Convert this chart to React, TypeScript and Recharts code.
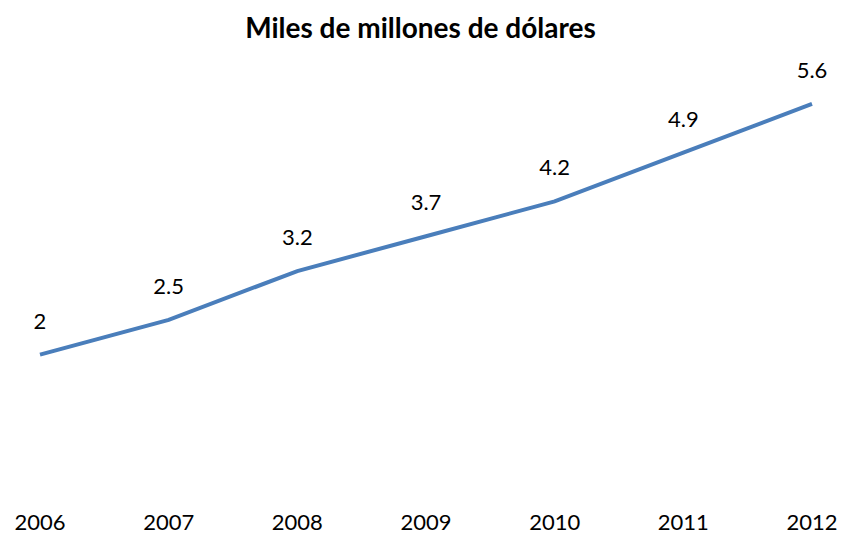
import { LineChart, Line, XAxis, YAxis, LabelList } from 'recharts';

const years = ['2006', '2007', '2008', '2009', '2010', '2011', '2012'];
const values = [2, 2.5, 3.2, 3.7, 4.2, 4.9, 5.6];

const data = years.map((year, i) => ({ year, value: values[i] }));

const FONT = 'Lato, "Open Sans", sans-serif';

export default function App() {
  return (
    <div style={{ position: 'absolute', left: 0, top: 0, width: 841, height: 539, background: '#fff' }}>
      <div
        style={{
          position: 'absolute',
          top: 9,
          width: 841,
          textAlign: 'center',
          fontFamily: FONT,
          fontWeight: 700,
          fontSize: 28,
          lineHeight: '36px',
          color: '#000',
        }}
      >
        Miles de millones de dólares
      </div>
      <LineChart
        width={841}
        height={539}
        data={data}
        margin={{ top: 76, right: 29, left: 40, bottom: 0 }}
      >
        <XAxis
          dataKey="year"
          axisLine={false}
          tickLine={false}
          height={45}
          tickMargin={14}
          tick={{ fill: '#000', fontSize: 22, fontFamily: FONT }}
        />
        <YAxis hide domain={[0, 6]} />
        <Line
          dataKey="value"
          stroke="#4a7ebb"
          strokeWidth={4}
          dot={false}
          isAnimationActive={false}
        >
          <LabelList
            dataKey="value"
            position="top"
            offset={26}
            fill="#000"
            fontSize={22}
            fontFamily={FONT}
          />
        </Line>
      </LineChart>
    </div>
  );
}
